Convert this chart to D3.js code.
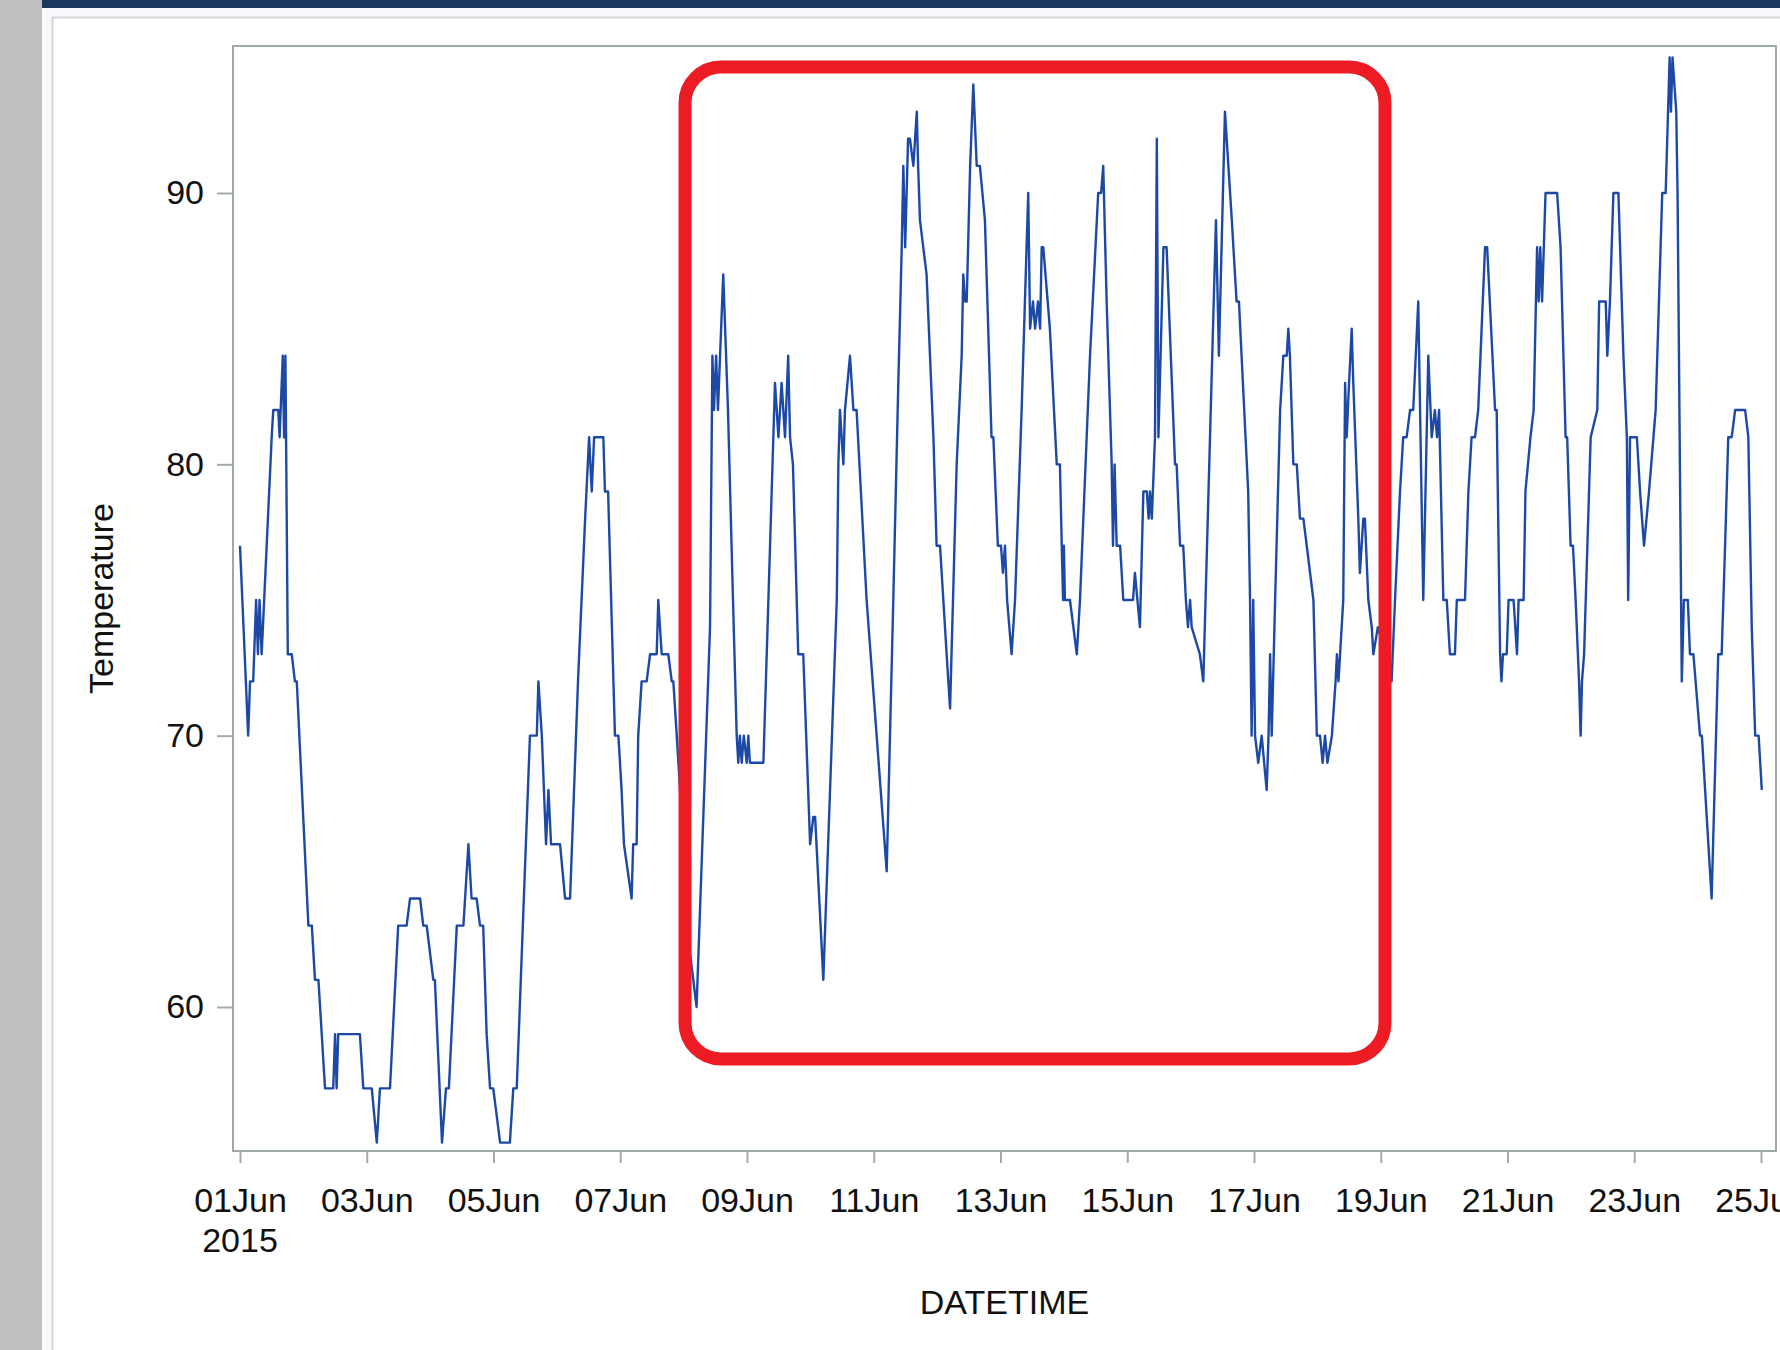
<!DOCTYPE html>
<html>
<head>
<meta charset="utf-8">
<script src="https://cdn.jsdelivr.net/npm/d3@7/dist/d3.min.js"></script>
<style>
  html, body { margin: 0; padding: 0; background: #f7f9fd; overflow: hidden; }
  svg text { font-family: "Liberation Sans", Arial, sans-serif; fill: #111; }
</style>
</head>
<body>
<div id="chart"></div>
<script>
// hourly readings, as hours after 01Jun2015 00:00 and degrees
let hoursFromStart = [
  0, 3.1, 3.8, 5.0, 6.1, 6.8, 7.4, 8.2, 12.0, 12.6, 14.5, 15.0, 16.2, 16.7, 17.2, 18.1, 19.6, 20.8, 21.5,
  25.9, 27.2, 28.4, 29.7, 32.2, 35.3, 36.0, 36.6, 37.2, 45.4, 46.7, 49.9, 51.8, 53.0, 56.8, 59.9, 63.1,
  64.4, 68.2, 69.4, 70.7, 73.2, 73.8, 76.5, 78.0, 79.1, 82.1, 84.6, 86.5, 87.7, 89.6, 90.9, 92.1, 93.4,
  94.7, 95.9, 98.5, 102.2, 103.5, 104.8, 109.8, 112.4, 113.0, 114.3, 115.9, 116.8, 117.8, 121.2, 123.1,
  125.0, 128.0, 130.7, 132.2, 133.2, 134.1, 137.6, 138.2, 139.4, 142.0, 143.3, 144.5, 145.4, 148.3, 148.9,
  150.2, 150.8, 152.1, 154.0, 155.3, 157.8, 158.4, 159.7, 162.2, 163.5, 164.1, 165.4, 170.4, 172.9,
  178.0, 178.9, 179.5, 180.3, 181.0, 183.0, 184.8, 186.7, 188.1, 188.7, 189.3, 190.0, 190.8, 191.9, 192.5,
  193.1, 198.2, 200.1, 202.6, 203.9, 205.1, 206.4, 207.6, 208.3, 209.4, 211.4, 213.3, 215.9, 217.1, 217.8,
  220.9, 226.0, 226.6, 227.2, 228.5, 229.1, 231.0, 232.3, 233.5, 237.3, 244.9, 247.4, 249.3, 250.6, 251.2,
  251.9, 253.0, 253.7, 255.0, 256.3, 256.8, 257.5, 260.0, 262.6, 263.8, 265.1, 267.6, 268.9, 271.4, 273.3,
  273.9, 274.6, 275.2, 276.5, 277.7, 279.0, 280.2, 282.1, 284.6, 285.3, 287.0, 288.2, 288.9, 289.7, 290.5,
  292.2, 293.5, 296.0, 298.5, 299.2, 300.3, 301.1, 302.2, 303.0, 303.6, 304.2, 306.7, 309.3, 310.5, 311.2,
  311.7, 312.0, 312.4, 314.3, 316.9, 318.1, 321.9, 325.0, 326.1, 326.9, 328.2, 330.1, 330.6, 331.2, 332.0,
  333.3, 334.5, 338.2, 338.9, 340.8, 342.1, 343.4, 344.1, 344.6, 345.3, 346.5, 347.2, 347.8, 349.7, 350.9,
  354.1, 354.7, 356.0, 357.2, 358.2, 359.0, 359.8, 360.4, 363.5, 364.8, 369.6, 370.7, 373.0, 375.6, 377.4,
  378.3, 381.8, 382.5, 383.1, 383.7, 384.4, 385.6, 386.9, 388.8, 389.5, 390.1, 390.7, 392.0, 393.9, 395.1,
  396.4, 397.0, 397.6, 398.9, 400.2, 401.4, 402.7, 406.5, 407.8, 409.0, 410.0, 410.9, 411.8, 413.5, 414.9,
  415.4, 416.0, 417.8, 418.5, 419.1, 420.0, 421.0, 421.6, 423.5, 424.1, 425.4, 426.0, 427.3, 428.6, 429.2,
  430.9, 434.0, 436.1, 437.4, 439.3, 440.5, 441.8, 443.1, 444.3, 446.2, 448.1, 450.0, 451.3, 452.5, 453.3,
  454.1, 455.7, 457.0, 458.2, 460.1, 460.8, 463.9, 465.2, 466.4, 467.7, 468.9, 470.2, 471.5, 472.3, 475.3,
  475.9, 477.2, 477.7, 478.3, 479.7, 480.4, 482.3, 483.6, 484.2, 486.1, 486.8, 488.7, 489.9, 491.2, 491.8,
  492.4, 493.1, 494.4, 498.8, 500.1, 502.0, 502.6, 503.9, 504.8, 505.8, 507.1, 507.7, 508.2, 509.0, 511.5,
  514.0, 514.7, 517.2, 517.8, 518.8, 520.1, 522.0, 523.9, 525.2, 525.7, 526.4, 529.0, 530.2, 531.7, 533.6,
  536.1, 538.6, 539.9, 541.4, 541.9, 542.5, 543.9, 544.4, 546.0, 546.8, 548.3, 549.1, 550.4, 552.9, 553.6,
  557.3, 559.8, 561.1, 562.4, 563.6, 564.9, 566.2, 570.0, 571.2, 572.5, 573.8, 575.1, 576.3
];

let temperature = [
  77, 70, 72, 72, 75, 73, 75, 73, 81, 82, 82, 81, 84, 81, 84, 73, 73, 72, 72,
  63, 63, 61, 61, 57, 57, 59, 57, 59, 59, 57, 57, 55, 57, 57, 63, 63,
  64, 64, 63, 63, 61, 61, 55, 57, 57, 63, 63, 66, 64, 64, 63, 63, 59,
  57, 57, 55, 55, 57, 57, 70, 70, 72, 70, 66, 68, 66, 66, 64,
  64, 72, 78, 81, 79, 81, 81, 79, 79, 70, 70, 68, 66, 64, 66,
  66, 70, 72, 72, 73, 73, 75, 73, 73, 72, 72, 70, 62, 60,
  74, 84, 82, 84, 82, 87, 82, 75, 70, 69, 70, 69, 70, 69, 70,
  69, 69, 75, 83, 81, 83, 81, 84, 81, 80, 73, 73, 66, 67, 67,
  61, 75, 80, 82, 80, 82, 84, 82, 82, 75, 65, 75, 83, 88, 91,
  88, 92, 92, 91, 93, 91, 89, 87, 81, 77, 77, 73, 71, 80, 84,
  87, 86, 86, 91, 94, 91, 91, 89, 81, 81, 77, 77, 76, 77, 75,
  73, 75, 82, 90, 85, 86, 85, 86, 85, 88, 88, 85, 80, 80, 77,
  75, 77, 75, 75, 73, 75, 84, 90, 90, 91, 86, 80, 77, 80, 77,
  77, 75, 75, 76, 74, 79, 79, 78, 79, 78, 81, 92, 81, 88, 88,
  80, 80, 77, 77, 75, 74, 75, 74, 73, 72, 89, 84, 93, 89, 86,
  86, 79, 75, 70, 75, 70, 69, 70, 68, 70, 73, 70, 75, 82, 84,
  84, 85, 84, 80, 80, 78, 78, 75, 70, 70, 69, 70, 69, 70, 72,
  73, 72, 75, 83, 81, 83, 85, 83, 78, 76, 78, 78, 75, 74, 73,
  74, 73, 72, 75, 79, 81, 81, 82, 82, 86, 75, 84, 81, 82, 81,
  82, 75, 75, 73, 73, 75, 75, 79, 81, 81, 82, 85, 88, 88, 82,
  82, 73, 72, 73, 73, 75, 75, 73, 75, 75, 79, 81, 82, 88, 86,
  88, 86, 90, 90, 88, 81, 81, 77, 77, 75, 72, 70, 72, 73, 81,
  82, 86, 86, 84, 86, 90, 90, 84, 81, 75, 81, 81, 79, 77, 79,
  82, 90, 90, 95, 93, 95, 93, 90, 72, 75, 75, 73, 73, 70, 70,
  64, 73, 73, 77, 81, 81, 82, 82, 81, 74, 70, 70, 68
];

let yTickValues = [60, 70, 80, 90];
let xTickFormat = '%d%b';
let yearLabel = '2015';
let xTitle = 'DATETIME';
let yTitle = 'Temperature';

let startDate = new Date(2015, 5, 1);
let endDate = new Date(2015, 5, 25);

let width = 1780, height = 1350;
let frame = {left: 233, top: 46, right: 1776, bottom: 1151};

let svg = d3.select('#chart').append('svg')
  .attr('width', width)
  .attr('height', height);

// page chrome around the graph
svg.append('rect').attr('x', 0).attr('y', 0).attr('width', width).attr('height', height).attr('fill', '#f7f9fd');
svg.append('rect').attr('x', 0).attr('y', 0).attr('width', 42).attr('height', height).attr('fill', '#c0c0c0');
svg.append('rect').attr('x', 42).attr('y', 0).attr('width', width - 42).attr('height', 8).attr('fill', '#1b375e');
svg.append('rect')
  .attr('x', 52.5).attr('y', 17.5)
  .attr('width', 1760).attr('height', 1360)
  .attr('fill', '#ffffff')
  .attr('stroke', '#d2d5da')
  .attr('stroke-width', 2);

let data = hoursFromStart.map((h, i) => {
  return {date: new Date(startDate.getTime() + h * 3600 * 1000), temp: temperature[i]};
});

let xScale = d3.scaleTime()
  .domain([startDate, endDate])
  .range([240, 1761]);

let yScale = d3.scaleLinear()
  .domain([60, 90])
  .range([1007, 193]);

// x axis
let xAxis = d3.axisBottom(xScale)
  .ticks(d3.timeDay.every(2))
  .tickFormat(d3.timeFormat(xTickFormat))
  .tickSize(12)
  .tickPadding(25);

let gx = svg.append('g')
  .attr('transform', 'translate(0,' + frame.bottom + ')')
  .call(xAxis);
gx.select('.domain').remove();
gx.selectAll('.tick line').attr('stroke', '#a3abae').attr('stroke-width', 2);
gx.selectAll('.tick text')
  .style('font-size', '34px')
  .attr('fill', '#111');

svg.append('text')
  .attr('x', xScale(startDate))
  .attr('y', 1252)
  .attr('text-anchor', 'middle')
  .style('font-size', '34px')
  .text(yearLabel);

// y axis
let yAxis = d3.axisLeft(yScale)
  .tickValues(yTickValues)
  .tickSize(16)
  .tickPadding(13);

let gy = svg.append('g')
  .attr('transform', 'translate(' + frame.left + ',0)')
  .call(yAxis);
gy.select('.domain').remove();
gy.selectAll('.tick line').attr('stroke', '#a3abae').attr('stroke-width', 2);
gy.selectAll('.tick text')
  .style('font-size', '34px')
  .attr('fill', '#111');

// axis titles
svg.append('text')
  .attr('x', (frame.left + frame.right) / 2)
  .attr('y', 1314)
  .attr('text-anchor', 'middle')
  .style('font-size', '34px')
  .text(xTitle);

svg.append('text')
  .attr('transform', 'translate(113,' + (frame.top + frame.bottom) / 2 + ') rotate(-90)')
  .attr('text-anchor', 'middle')
  .style('font-size', '34px')
  .text(yTitle);

// plot frame
svg.append('rect')
  .attr('x', frame.left)
  .attr('y', frame.top)
  .attr('width', frame.right - frame.left)
  .attr('height', frame.bottom - frame.top)
  .attr('fill', 'none')
  .attr('stroke', '#9fa8ab')
  .attr('stroke-width', 2);

// temperature series
let line = d3.line()
  .x(d => xScale(d.date))
  .y(d => yScale(d.temp));

svg.append('path')
  .datum(data)
  .attr('d', line)
  .attr('fill', 'none')
  .attr('stroke', '#1d49a5')
  .attr('stroke-width', 2.4)
  .attr('stroke-linejoin', 'round');

// red highlight box drawn over the chart
svg.append('rect')
  .attr('x', 685)
  .attr('y', 67)
  .attr('width', 700)
  .attr('height', 992)
  .attr('rx', 36)
  .attr('ry', 36)
  .attr('fill', 'none')
  .attr('stroke', '#ed1c24')
  .attr('stroke-width', 13);
</script>
</body>
</html>
